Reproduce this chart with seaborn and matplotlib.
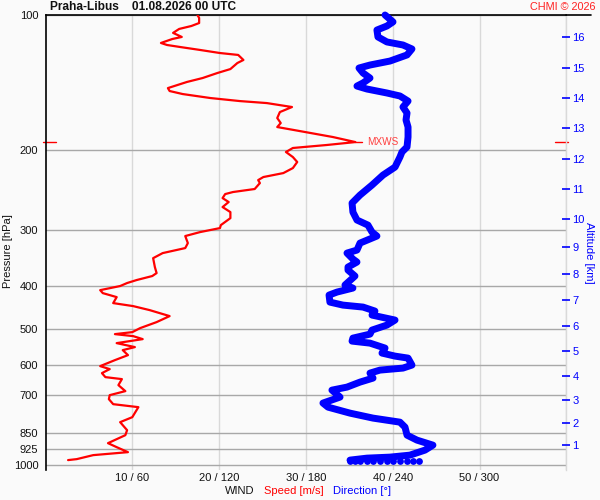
import numpy as np
import pandas as pd
import matplotlib
matplotlib.use("Agg")
import matplotlib.pyplot as plt
import matplotlib.ticker as mticker
import matplotlib.transforms as mtransforms
from matplotlib.lines import Line2D
import seaborn as sns

# ---------------- data ----------------
# wind speed profile [m/s] vs pressure [hPa]
speed_p = [100, 101.5, 104.2, 105.8, 107.4, 109.6, 111.9, 113.1, 115.4, 116.6,
           117.8, 119.6, 121.5, 122.7, 125.9, 127.9, 131.9, 134.6, 138.1, 140.9,
           145.4, 147.6, 149.9, 153, 155.4, 157, 160.2, 164.4, 169.5, 173.9,
           177.5, 181.2, 186.8, 191.7, 194.6, 197.6, 201.7, 207, 212.3, 219,
           224.7, 229.3, 232.9, 236.5, 243.8, 247.6, 250.2, 255.4, 260.6, 267.4,
           274.4, 283, 293.3, 297.8, 304, 310.2, 321.6, 329.9, 338.5, 347.4,
           363.6, 375, 380.7, 388.6, 394.6, 400.7, 409.2, 415.5, 424.1, 437.3,
           444.1, 453.3, 467.4, 482, 497.1, 507.4, 512.6, 517.9, 525.9, 536.8,
           547.8, 556.4, 570.8, 585.6, 603.9, 613.2, 625.9, 638.9, 645.4, 665.6,
           686.4, 700.6, 715.2, 733.8, 745.1, 784.3, 804.6, 838.3, 860, 896,
           914.5, 938.2, 952.6, 972.3, 977.2]
speed = [17.5, 17.7, 17.7, 16.8, 15.4, 14.7, 15.7, 14.6, 13.3, 14.0,
         15.5, 17.8, 20.1, 22.2, 22.8, 22.1, 21.3, 19.8, 18.1, 16.3,
         14.1, 14.3, 15.8, 19.0, 22.4, 25.5, 28.4, 27.0, 26.7, 27.1,
         26.7, 29.3, 33.1, 35.7, 32.4, 28.5, 27.7, 28.5, 29.0, 28.5,
         27.4, 25.1, 24.5, 24.7, 24.1, 21.6, 20.7, 20.4, 21.1, 20.4,
         21.3, 21.3, 20.2, 20.1, 17.8, 16.1, 16.4, 16.1, 13.5, 12.4,
         12.6, 12.8, 12.3, 10.5, 9.4, 8.6, 6.3, 6.6, 8.2, 7.8,
         10.1, 12.0, 14.3, 12.8, 10.9, 10.0, 8.0, 10.1, 11.2, 8.2,
         10.3, 8.9, 9.5, 8.0, 6.3, 7.4, 6.5, 6.9, 8.8, 8.4,
         9.2, 7.4, 7.3, 7.8, 10.7, 10.0, 8.6, 9.4, 9.2, 7.2,
         8.2, 9.5, 5.5, 3.6, 2.6]

# wind direction profile [deg] vs pressure [hPa]
dir_p = [100, 103.6, 105.8, 108.0, 111.9, 114.8, 116.6, 119.0, 122.7, 126.6,
         129.2, 131.2, 134.6, 138.1, 141.6, 143.9, 146.1, 149.1, 151.4, 155.4,
         160.2, 165.2, 171.2, 177.5, 186.8, 196.6, 201.7, 207.0, 217.9, 227.0,
         238.9, 251.5, 262.0, 274.4, 285.8, 293.3, 304.0, 310.2, 321.6, 333.3,
         338.5, 349.0, 354.4, 363.6, 369.3, 380.7, 398.7, 404.9, 413.3, 419.7,
         435.1, 441.8, 446.3, 455.5, 465.0, 477.0, 489.4, 502.1, 512.6, 523.2,
         531.3, 536.8, 550.6, 564.9, 573.7, 579.6, 600.7, 610.0, 616.3, 625.9,
         642.1, 655.4, 672.4, 682.9, 707.7, 729.7, 745.1, 768.3, 788.1, 804.6,
         825.4, 860.0, 882.2, 905.1, 928.5, 952.6, 962.4, 967.4, 977.2]
direction = [234.7, 240.2, 236.0, 229.1, 229.8, 236.0, 247.1, 253.3, 249.9, 238.1,
             224.3, 216.7, 219.5, 224.3, 219.5, 215.3, 222.2, 236.0, 245.0, 250.6,
             247.1, 249.9, 249.2, 250.6, 250.6, 249.9, 246.4, 245.0, 241.6, 233.3,
             225.7, 217.4, 211.9, 212.5, 215.3, 222.9, 225.7, 229.1, 217.4, 215.3,
             208.4, 212.5, 215.3, 209.1, 209.1, 213.9, 207.0, 212.5, 201.5, 196.0,
             196.6, 205.6, 219.5, 227.7, 225.7, 241.6, 236.0, 225.7, 224.3, 212.5,
             211.9, 224.3, 234.7, 232.6, 241.6, 250.6, 253.3, 247.1, 231.2, 224.3,
             226.4, 217.4, 208.4, 198.0, 203.6, 191.8, 195.3, 210.5, 226.4, 245.0,
             248.5, 249.9, 256.8, 267.8, 262.3, 251.9, 238.1, 222.2, 210.5]

# near-surface direction samples
surface_dir = [210.5, 214.0, 217.4, 222.2, 226.4, 231.2, 236.0, 240.2, 245.0, 249.9, 254.0, 258.2]
surface_p = [982.0] * len(surface_dir)

# axis ticks
p_ticks = [100, 200, 300, 400, 500, 600, 700, 850, 925, 1000]
speed_ticks = [10, 20, 30, 40, 50, 60]
speed_tick_labels = ["10 / 60", "20 / 120", "30 / 180", "40 / 240", "50 / 300", ""]
alt_km = [1, 2, 3, 4, 5, 6, 7, 8, 9, 10, 11, 12, 13, 14, 15, 16]
alt_p = [906.6, 807.6, 718.6, 635.6, 559.2, 491.9, 430.6, 376.9, 327.8, 284.4,
         243.8, 208.6, 178.1, 152.8, 131.0, 112.1]

title = "Praha-Libus    01.08.2026 00 UTC"
credit = "CHMI \u00a9 2026"

df_speed = pd.DataFrame({"pressure": speed_p, "speed": speed})
df_dir = pd.DataFrame({"pressure": dir_p, "direction": direction})
df_sfc = pd.DataFrame({"pressure": surface_p, "direction": surface_dir})

# ---------------- style ----------------
sns.set_theme(style="white")
plt.rcParams['font.family'] = ['Liberation Sans', 'DejaVu Sans']
BG = '#fafafa'
FS = 8
YLIM = (1028, 100)

fig = plt.figure(figsize=(6, 5), dpi=100, facecolor=BG)
ax = fig.add_axes([45.5 / 600, 30 / 500, 520.8 / 600, 455 / 500])
ax.set_facecolor(BG)
ax.set_yscale('log')

# speed (red)
sns.lineplot(data=df_speed, x="speed", y="pressure", sort=False, estimator=None,
             color='#ff0000', lw=1.6, ax=ax, zorder=3)

# direction (blue) on its own x scale 0..360, sharing the pressure axis
axd = ax.twiny()
sns.lineplot(data=df_dir, x="direction", y="pressure", sort=False, estimator=None,
             color='#0000ff', lw=5.0, ax=axd, zorder=3,
             solid_capstyle='round', solid_joinstyle='round', clip_on=False)
sns.scatterplot(data=df_sfc, x="direction", y="pressure", color='#0000ff',
                s=24, linewidth=0, ax=axd, zorder=3, clip_on=False)
axd.set_xlim(0, 360)
axd.xaxis.set_visible(False)
axd.set_xlabel('')
axd.set_ylabel('')
for s in axd.spines.values():
    s.set_visible(False)

# altitude axis (right)
axr = ax.twinx()
axr.set_yscale('log')
axr.set_ylim(*YLIM)
axr.set_yticks(alt_p)
axr.set_yticklabels([str(a) for a in alt_km])
axr.yaxis.set_minor_locator(mticker.NullLocator())
axr.tick_params(axis='y', direction='inout', length=6, width=1.2, color='#0000ff',
                labelcolor='#0000ff', labelsize=FS, pad=1.5)
for s in axr.spines.values():
    s.set_visible(False)

# main axis configuration (after twins so nothing overrides it)
ax.set_xlim(0, 60)
ax.set_ylim(*YLIM)
ax.set_yticks(p_ticks)
ax.set_yticklabels([str(p) for p in p_ticks])
ax.yaxis.set_minor_locator(mticker.NullLocator())
ax.set_xticks(speed_ticks)
ax.set_xticklabels(speed_tick_labels)
ax.tick_params(axis='y', length=0, pad=5.2, labelsize=FS, labelcolor='#111111')
ax.tick_params(axis='x', length=0, pad=2.5, labelsize=FS, labelcolor='#111111')
ax.grid(axis='x', color='#d9d9d9', lw=1.0)
ax.grid(axis='y', color='#a8a8a8', lw=1.0)
ax.set_axisbelow(True)
ax.set_xlabel('')
ax.set_ylabel('')
ax.spines['bottom'].set_visible(False)
ax.spines['right'].set_color('#d9d9d9')
ax.spines['right'].set_linewidth(1.0)
ax.spines['left'].set_color('black')
ax.spines['left'].set_linewidth(1.2)
ax.spines['top'].set_color('black')
ax.spines['top'].set_linewidth(1.2)

# max wind marker
imax = int(np.argmax(speed))
mx, mp = speed[imax], speed_p[imax]
ax.plot([mx, mx + 0.8], [mp, mp], color='#ff0000', lw=1.0, zorder=3)
ax.text(mx + 1.3, mp, "MXWS", color='#ff4040', fontsize=7.2, va='center', ha='left')
blend = mtransforms.blended_transform_factory(ax.transAxes, ax.transData)
ax.plot([-0.005, 0.02], [mp, mp], color='#ff0000', lw=1.0, transform=blend, clip_on=False)
ax.plot([0.978, 1.004], [mp, mp], color='#ff0000', lw=1.0, transform=blend, clip_on=False)

# top line extension
fig.add_artist(Line2D([566 / 600, 591 / 600], [1 - 15 / 500, 1 - 15 / 500],
                      color='black', lw=1.2))

# texts
fig.text(50 / 600, 1 - 7 / 500, title, fontsize=8.6, fontweight='bold',
         ha='left', va='center', color='#111111')
fig.text(596 / 600, 1 - 7 / 500, credit, fontsize=7.8, ha='right', va='center',
         color='#ff2020')
fig.text(8 / 600, 1 - 251 / 500, "Pressure [hPa]", rotation=90, fontsize=FS,
         ha='center', va='center', color='#111111')
fig.text(589 / 600, 1 - 253 / 500, "Altitude [km]", rotation=270, fontsize=FS,
         ha='center', va='center', color='#0000ff')
fig.text(225 / 600, 1 - 491 / 500, "WIND", fontsize=FS, ha='left', va='center', color='#111111')
fig.text(264 / 600, 1 - 491 / 500, "Speed [m/s]", fontsize=FS, ha='left', va='center', color='#ff0000')
fig.text(333 / 600, 1 - 491 / 500, "Direction [\u00b0]", fontsize=FS, ha='left', va='center', color='#0000ff')

fig.savefig("out.png", dpi=100, facecolor=BG)
